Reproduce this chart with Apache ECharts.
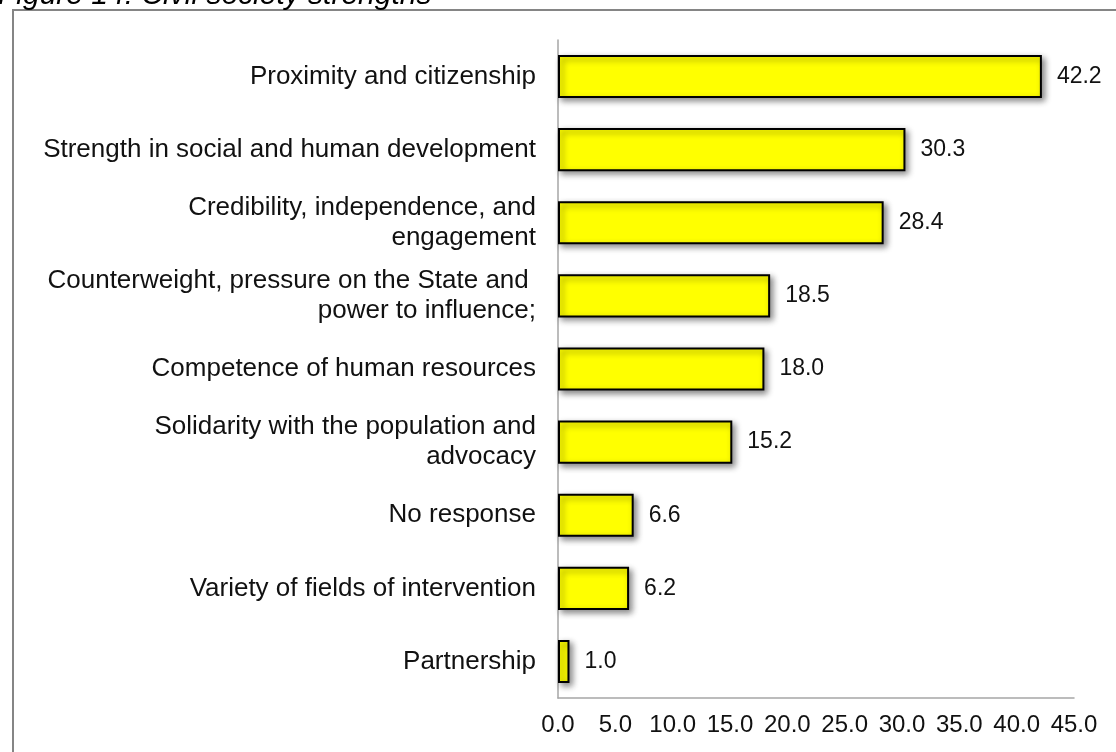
<!DOCTYPE html>
<html>
<head>
<meta charset="utf-8">
<style>
  html, body { margin: 0; padding: 0; background: #fff; }
  #chart { width: 1116px; height: 752px; }
</style>
<script src="https://cdn.jsdelivr.net/npm/echarts@6/dist/echarts.min.js"></script>
</head>
<body>
<div id="chart"></div>
<script>
// Civil society strengths (%), top to bottom
const categories = [
  'Proximity and citizenship',
  'Strength in social and human development',
  'Credibility, independence, and\nengagement',
  'Counterweight, pressure on the State and \npower to influence;',
  'Competence of human resources',
  'Solidarity with the population and\nadvocacy',
  'No response',
  'Variety of fields of intervention',
  'Partnership'
];
const values = [42.2, 30.3, 28.4, 18.5, 18.0, 15.2, 6.6, 6.2, 1.0];
const titleText = 'Figure 14: Civil society strengths';

const FONT = '"Liberation Sans", Arial, sans-serif';
const chart = echarts.init(document.getElementById('chart'), null, { renderer: 'canvas' });

chart.setOption({
  animation: false,
  backgroundColor: '#ffffff',
  graphic: [
    {
      type: 'rect',
      shape: { x: 13, y: 10, width: 1200, height: 800 },
      style: { fill: 'none', stroke: '#858585', lineWidth: 2 },
      z: 0
    },
    {
      type: 'text',
      x: -2,
      y: -19,
      style: {
        text: titleText,
        font: 'italic 30px ' + FONT,
        fill: '#000'
      }
    }
  ],
  grid: { left: 558, right: 42, top: 40, bottom: 54, containLabel: false },
  xAxis: {
    type: 'value',
    min: 0,
    max: 45,
    interval: 5,
    axisLine: { show: true, lineStyle: { color: '#a6a6a6', width: 1.5 } },
    axisTick: { show: false },
    splitLine: { show: false },
    axisLabel: {
      formatter: v => v.toFixed(1),
      fontFamily: FONT,
      fontSize: 24,
      color: '#111',
      margin: 15,
      hideOverlap: false
    }
  },
  yAxis: {
    type: 'category',
    data: categories,
    inverse: true,
    axisLine: { show: true, lineStyle: { color: '#a6a6a6', width: 1.5 } },
    axisTick: { show: false },
    axisLabel: {
      fontFamily: FONT,
      fontSize: 26,
      color: '#111',
      lineHeight: 30,
      margin: 22,
      align: 'right'
    }
  },
  series: [{
    type: 'bar',
    data: values,
    barCategoryGap: '41%',
    itemStyle: {
      color: '#ffff00',
      borderColor: '#000',
      borderWidth: 2,
      shadowColor: 'rgba(0,0,0,0.45)',
      shadowBlur: 6,
      shadowOffsetX: 3,
      shadowOffsetY: 3
    },
    label: {
      show: true,
      position: 'right',
      distance: 15,
      formatter: p => p.value.toFixed(1),
      fontFamily: FONT,
      fontSize: 23,
      color: '#111'
    }
  }]
});
</script>
</body>
</html>
